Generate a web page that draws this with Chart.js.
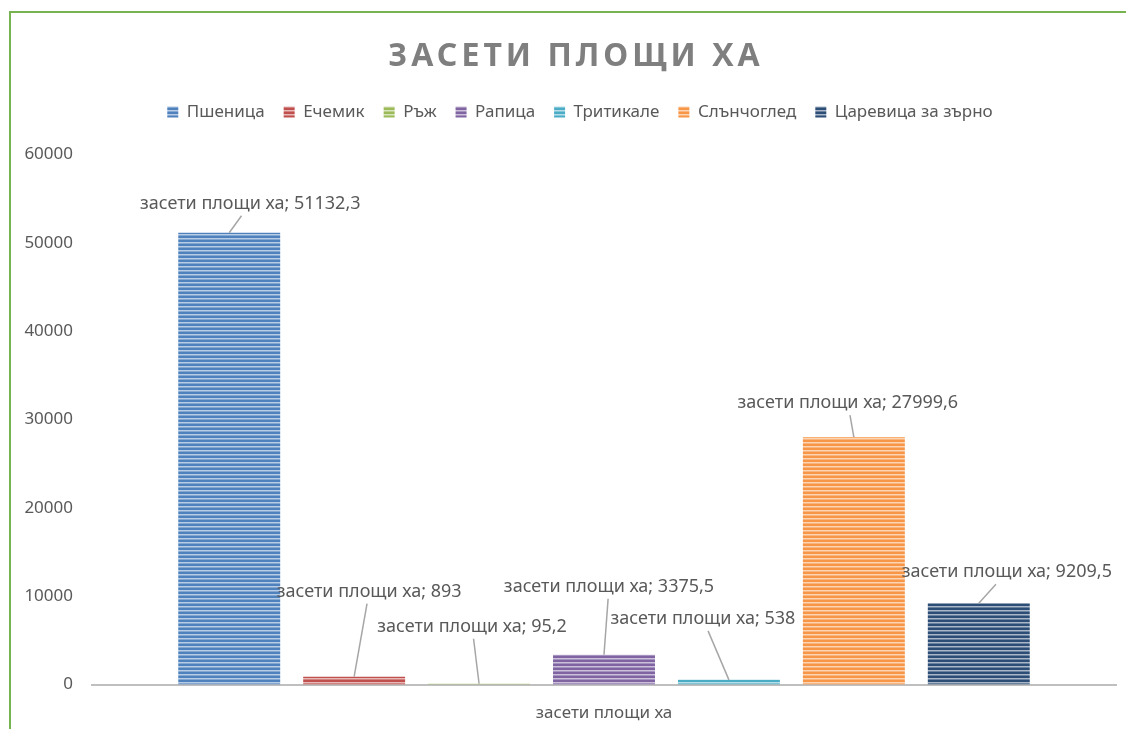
<!DOCTYPE html>
<html lang="bg">
<head>
<meta charset="utf-8">
<title>Засети площи ха</title>
<script src="https://cdn.jsdelivr.net/npm/chart.js@4.4.1/dist/chart.umd.min.js"></script>
<style>
    html, body { margin: 0; padding: 0; background: #fff; }
    #marco { position: relative; width: 1126px; height: 729px; }
</style>
</head>
<body>
<div id="marco"><canvas id="grafico" width="1126" height="729"></canvas></div>
<script>
// Datos
const categorias = ['засети площи ха'];
const cultivos = ['Пшеница', 'Ечемик', 'Ръж', 'Рапица', 'Тритикале', 'Слънчоглед', 'Царевица за зърно'];
const valores = [51132.3, 893, 95.2, 3375.5, 538, 27999.6, 9209.5];
const ticksY = [0, 10000, 20000, 30000, 40000, 50000, 60000];

// Estilo
const colores = ['#4f81bd', '#c0504d', '#9bbb59', '#8064a2', '#4bacc6', '#f79646', '#2c4d75'];
// desplazamiento de cada etiqueta respecto a la parte superior de su barra (px)
const etiquetaDx = [21, 15, -7, 5, -26, -6, 28];
const etiquetaDy = [-29, -85, -57, -68, -61, -34, -31];

const FUENTE = '"Noto Sans", "Open Sans", sans-serif';
const GRIS = '#595959';

const canvas = document.getElementById('grafico');
const ctx = canvas.getContext('2d');

// Relleno rayado horizontal (como en Excel)
function rayado(color) {
    const c = document.createElement('canvas');
    c.width = 4;
    c.height = 4;
    const g = c.getContext('2d');
    g.fillStyle = color;
    g.fillRect(0, 0, 4, 4);
    g.fillStyle = 'rgba(255,255,255,0.6)';
    g.fillRect(0, 2, 4, 1);
    g.fillStyle = 'rgba(255,255,255,0.3)';
    g.fillRect(0, 3, 4, 1);
    return ctx.createPattern(c, 'repeat');
}

const formatear = (v) => String(v).replace('.', ',');

// Marco verde arriba / izquierda
const marcoPlugin = {
    id: 'marco',
    beforeDraw(chart) {
        const c = chart.ctx;
        c.save();
        c.strokeStyle = '#77b350';
        c.lineWidth = 2;
        c.beginPath();
        c.moveTo(10, 729);
        c.lineTo(10, 12);
        c.lineTo(1126, 12);
        c.stroke();
        c.restore();
    }
};

// Ajustes del título y la leyenda (espaciado de letras, hueco bajo la leyenda, centrado)
const ajustesPlugin = {
    id: 'ajustes',
    afterInit(chart) {
        const leyenda = chart.legend;
        const fitOriginal = leyenda.fit;
        leyenda.fit = function () {
            fitOriginal.call(this);
            this.height += 24;
        };
        const titulo = chart.titleBlock;
        const drawOriginal = titulo.draw;
        titulo.draw = function () {
            this.ctx.save();
            this.ctx.letterSpacing = '4px';
            drawOriginal.call(this);
            this.ctx.restore();
        };
    },
    afterLayout(chart) {
        chart.titleBlock.left += 13;
        chart.titleBlock.right += 13;
        chart.legend.left += 17;
        chart.legend.right += 17;
    }
};

// Etiquetas de datos con líneas guía
const etiquetasPlugin = {
    id: 'etiquetas',
    afterDatasetsDraw(chart) {
        const c = chart.ctx;
        c.save();
        c.font = '18px ' + FUENTE;
        c.textAlign = 'center';
        c.textBaseline = 'middle';
        chart.data.datasets.forEach((ds, i) => {
            const barra = chart.getDatasetMeta(i).data[0];
            if (!barra) return;
            const bx = barra.x;
            const by = barra.y;
            const lx = bx + etiquetaDx[i];
            const ly = by + etiquetaDy[i];
            // fin de la guía en el borde inferior del texto
            const yFin = ly + 12;
            const t = (by - yFin) / (by - ly);
            const xFin = bx + (lx - bx) * t;
            c.strokeStyle = '#a6a6a6';
            c.lineWidth = 1.5;
            c.beginPath();
            c.moveTo(bx, by);
            c.lineTo(xFin, yFin);
            c.stroke();
            c.fillStyle = GRIS;
            c.fillText(categorias[0] + '; ' + formatear(ds.data[0]), lx, ly);
        });
        c.restore();
    }
};

new Chart(ctx, {
    type: 'bar',
    data: {
        labels: categorias,
        datasets: cultivos.map((nombre, i) => ({
            label: nombre,
            data: [valores[i]],
            backgroundColor: rayado(colores[i]),
            borderWidth: 0
        }))
    },
    options: {
        responsive: false,
        animation: false,
        categoryPercentage: 0.854,
        barPercentage: 0.816,
        layout: {
            padding: { left: 10, right: 10, top: 0, bottom: -4 }
        },
        plugins: {
            title: {
                display: true,
                text: 'ЗАСЕТИ ПЛОЩИ ХА',
                color: '#7f7f7f',
                font: { family: FUENTE, size: 32, weight: 'bold' },
                padding: { top: 38, bottom: 8 }
            },
            legend: {
                display: true,
                position: 'top',
                labels: {
                    color: GRIS,
                    font: { family: FUENTE, size: 17 },
                    boxWidth: 11,
                    boxHeight: 11,
                    padding: 19
                }
            },
            tooltip: { enabled: false }
        },
        scales: {
            x: {
                grid: { display: false },
                border: { display: true, color: '#bfbfbf', width: 2 },
                ticks: {
                    color: GRIS,
                    font: { family: FUENTE, size: 17 },
                    padding: 10
                }
            },
            y: {
                min: 0,
                max: 60000,
                afterBuildTicks: (escala) => {
                    escala.ticks = ticksY.map(v => ({ value: v }));
                },
                afterFit: (escala) => {
                    escala.width = 82;
                },
                grid: { display: false },
                border: { display: false },
                ticks: {
                    color: GRIS,
                    font: { family: FUENTE, size: 17 },
                    padding: 11,
                    callback: (v) => String(v)
                }
            }
        }
    },
    plugins: [marcoPlugin, ajustesPlugin, etiquetasPlugin]
});
</script>
</body>
</html>
